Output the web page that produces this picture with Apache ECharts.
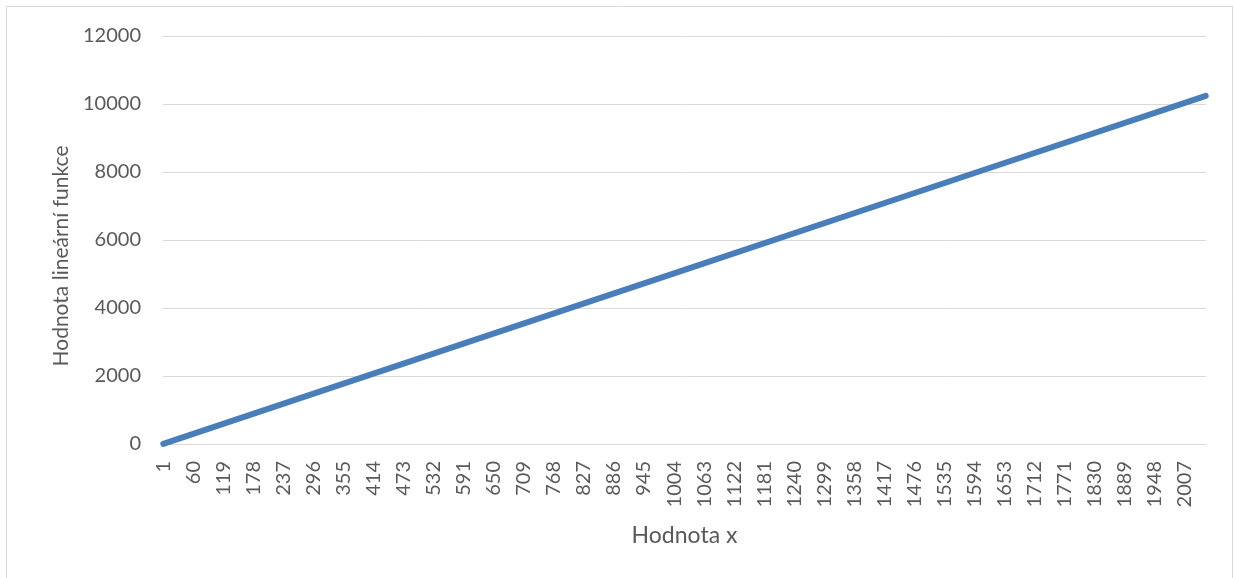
<!DOCTYPE html>
<html>
<head>
<meta charset="utf-8">
<script src="https://cdn.jsdelivr.net/npm/echarts@6/dist/echarts.min.js"></script>
<style>
html,body{margin:0;padding:0;background:#fff;}
#chart{width:1234px;height:578px;}
</style>
</head>
<body>
<div id="chart"></div>
<script>
// Points (x, value)
const xValues = [1, 355, 1004, 1594, 2048];
const yValues = [5, 1775, 5020, 7970, 10240];
// Category tick labels shown on the x axis
const xTickLabels = [1, 60, 119, 178, 237, 296, 355, 414, 473, 532, 591, 650, 709, 768, 827, 886, 945, 1004, 1063, 1122, 1181, 1240, 1299, 1358, 1417, 1476, 1535, 1594, 1653, 1712, 1771, 1830, 1889, 1948, 2007];
const yTicks = [0, 2000, 4000, 6000, 8000, 10000, 12000];
const xTitle = 'Hodnota x';
const yTitle = 'Hodnota lineární funkce';

const chart = echarts.init(document.getElementById('chart'));
const font = 'Lato';
const textColor = '#595959';
const gridColor = '#d9d9d9';

chart.setOption({
  animation: false,
  backgroundColor: '#fff',
  textStyle: { fontFamily: font },
  graphic: [{
    type: 'rect',
    shape: { x: 6.5, y: 6.5, width: 1226, height: 590 },
    style: { fill: 'none', stroke: '#d9d9d9', lineWidth: 1 },
    silent: true
  }],
  grid: { left: 163, right: 28, top: 36, bottom: 134, containLabel: false },
  xAxis: {
    type: 'value',
    min: 0.5,
    max: 2048.5,
    name: xTitle,
    nameLocation: 'middle',
    nameGap: 80,
    nameTextStyle: { color: textColor, fontSize: 23, fontFamily: font },
    axisLine: { show: true, lineStyle: { color: gridColor, width: 1 } },
    axisTick: { show: false },
    splitLine: { show: false },
    axisLabel: {
      customValues: xTickLabels,
      formatter: v => String(v),
      rotate: 90,
      margin: 17,
      color: textColor,
      fontSize: 20,
      fontFamily: font,
      showMinLabel: true,
      showMaxLabel: true
    }
  },
  yAxis: {
    type: 'value',
    min: yTicks[0],
    max: yTicks[yTicks.length - 1],
    interval: 2000,
    name: yTitle,
    nameLocation: 'middle',
    nameGap: 88,
    nameTextStyle: { color: textColor, fontSize: 21, fontFamily: font, padding: [0, 32, 0, 0] },
    axisLine: { show: false },
    axisTick: { show: false },
    splitLine: { show: true, lineStyle: { color: gridColor, width: 1 } },
    axisLabel: { color: textColor, fontSize: 20, fontFamily: font, margin: 22, formatter: v => String(v) }
  },
  series: [{
    type: 'line',
    data: xValues.map((x, i) => [x, yValues[i]]),
    showSymbol: false,
    lineStyle: { color: '#4a7ebb', width: 6, cap: 'round', join: 'round' },
    itemStyle: { color: '#4a7ebb' }
  }]
});
</script>
</body>
</html>
